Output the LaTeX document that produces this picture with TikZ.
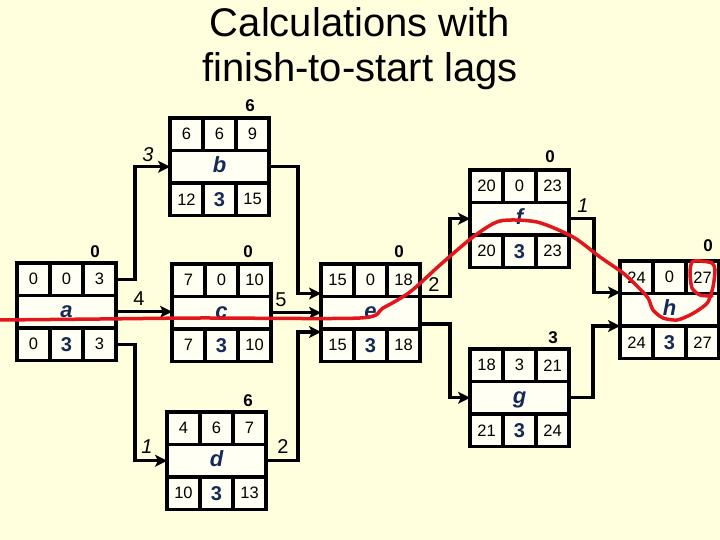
\documentclass[tikz,border=0pt]{standalone}
\usepackage{fontspec}
\setmainfont{Liberation Sans}
\usetikzlibrary{arrows.meta,calc}
\definecolor{bg}{RGB}{255,255,222}
\definecolor{boxfill}{RGB}{255,255,243}
\definecolor{navy}{RGB}{22,42,88}
\definecolor{crit}{RGB}{226,22,28}
\newcommand{\fsz}[1]{\fontsize{#1}{#1}\selectfont}
\tikzset{
 cell/.style={draw=black, line width=3.2pt, fill=boxfill, minimum width=33pt, minimum height=32.5pt, inner sep=0pt, outer sep=0pt, font=\fsz{16.5}, anchor=north west},
 midcell/.style={cell, minimum width=99pt, font=\fsz{22}\bfseries\itshape, text=navy, text height=15pt, text depth=4pt},
 durcell/.style={cell, font=\fsz{20}\bfseries, text=navy},
 conn/.style={line width=3.2pt, -{Stealth[length=12pt,width=12pt,inset=3pt]}},
 lag/.style={font=\fsz{20}},
 lagit/.style={font=\fsz{20}\itshape},
 floatlab/.style={font=\fsz{17}\bfseries},
 titletext/.style={font=\fsz{40}, anchor=base},
 critpath/.style={draw=crit, line width=3.5pt, line cap=round, line join=round}
}
\newcommand{\activitybox}[9]{%
 \node[cell] (#1-es) at (#2) {#3};
 \node[cell] (#1-sl) at (#1-es.north east) {#4};
 \node[cell] (#1-ef) at (#1-sl.north east) {#5};
 \node[midcell] (#1) at (#1-es.south west) {#6};
 \node[cell] (#1-ls) at (#1.south west) {#7};
 \node[durcell] (#1-du) at (#1-ls.north east) {#8};
 \node[cell] (#1-lf) at (#1-du.north east) {#9};
}
\begin{document}
\begin{tikzpicture}[x=1pt,y=-1pt]
\useasboundingbox (0,0) rectangle (720,540);
\fill[bg] (0,0) rectangle (720,540);

\node[titletext] (t1) at (360,37) {Calculations with};
\node[titletext] (t2) at (360,82) {finish-to-start lags};

\activitybox{a}{17,263}{0}{0}{3}{a}{0}{3}{3}
\activitybox{b}{170,118}{6}{6}{9}{b}{12}{3}{15}
\activitybox{c}{172,264}{7}{0}{10}{c}{7}{3}{10}
\activitybox{d}{167,412}{4}{6}{7}{d}{10}{3}{13}
\activitybox{e}{321,264}{15}{0}{18}{e}{15}{3}{18}
\activitybox{f}{470,170}{20}{0}{23}{f}{20}{3}{23}
\activitybox{g}{470,349}{18}{3}{21}{g}{21}{3}{24}
\activitybox{h}{620,261}{24}{0}{27}{h}{24}{3}{27}

\node[floatlab] (fl-a) at (95,252) {0};
\node[floatlab] (fl-b) at (250,106) {6};
\node[floatlab] (fl-c) at (248,252) {0};
\node[floatlab] (fl-e) at (399,252) {0};
\node[floatlab] (fl-f) at (550,157) {0};
\node[floatlab] (fl-h) at (708,246) {0};
\node[floatlab] (fl-g) at (553,338) {3};
\node[floatlab] (fl-d) at (248,401) {6};

\draw[conn] (a-ef.east) -- ++(19,0) |- (b.west);
\draw[conn] (a.east) -- (a.east -| c.west);
\draw[conn] (a-lf.east) -- ++(19,0) |- (d.west);
\draw[conn] (b.east) -- ++(29,0) |- ([yshift=3pt]e.north west);
\draw[conn] (c.east) -- (e.west);
\draw[conn] (d.east) -- ++(32,0) |- ([yshift=-3pt]e.south west);
\draw[conn] (e.north east) -- ++(30,0) |- (f.west);
\draw[conn] ([yshift=5pt]e.south east) -- ++(30,0) |- (g.west);
\draw[conn] (f.east) -- ++(25,0) |- ([yshift=1pt]h.north west);
\draw[conn] (g.east) -- ++(24,0) |- (h.south west);

\node[lagit] (l-ab) at (148,155) {3};
\node[lag] (l-ac) at (139,299) {4};
\node[lagit] (l-ad) at (147,447) {1};
\node[lag] (l-ce) at (281,300) {5};
\node[lag] (l-de) at (283,447) {2};
\node[lag] (l-ef) at (434,285) {2};
\node[lagit] (l-fh) at (583,206) {1};

\draw[critpath] plot[smooth, tension=0.45] coordinates {
 (0,320) (100,319) (200,318) (360,318) (383,308) (410,292) (440,265)
 (473,237) (500,221) (537,222) (573,237) (600,257) (623,273) (638,287)
 (648,298) (653,310) (663,318) (677,320) (690,315) (700,309) (708,302)
 (713,287) (715,270) (712,263) (700,261) (692,262) (690,273) (692,288)
 (700,295) (712,296)};
\end{tikzpicture}
\end{document}
